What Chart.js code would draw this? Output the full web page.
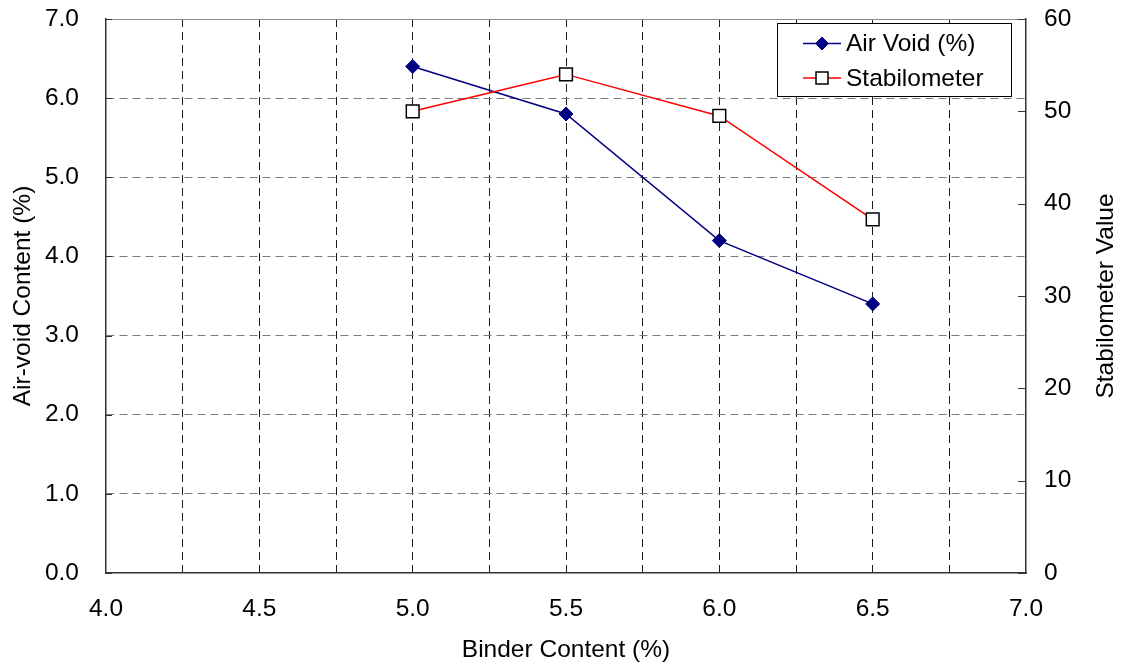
<!DOCTYPE html>
<html>
<head>
<meta charset="utf-8">
<script src="https://cdn.jsdelivr.net/npm/chart.js@4/dist/chart.umd.min.js"></script>
<style>
html,body{margin:0;padding:0;background:#fff;}
#wrap{width:1124px;height:667px;}
</style>
</head>
<body>
<div id="wrap"><canvas id="c" width="1124" height="667"></canvas></div>
<script>
const binderContent = [5.0, 5.5, 6.0, 6.5];
const airVoid = [6.4, 5.8, 4.2, 3.4];
const stabilometer = [50, 54, 49.5, 38.3];
const seriesNames = ['Air Void (%)', 'Stabilometer'];
const xTitle = 'Binder Content (%)';
const yTitle = 'Air-void Content (%)';
const y2Title = 'Stabilometer Value';

const FONT = '"Liberation Sans", Arial, sans-serif';
const FS = 24.5;

const framePlugin = {
  id: 'frame',
  beforeDatasetsDraw(chart) {
    const {ctx, chartArea: a, scales} = chart;
    ctx.save();
    ctx.strokeStyle = '#8c8c8c';
    ctx.lineWidth = 1;
    ctx.beginPath();
    ctx.moveTo(a.left, Math.round(a.top) + 0.5);
    ctx.lineTo(a.right, Math.round(a.top) + 0.5);
    ctx.stroke();
    ctx.strokeStyle = '#333';
    ctx.beginPath();
    scales.y.ticks.forEach(t => {
      const p = Math.round(scales.y.getPixelForValue(t.value)) + 0.5;
      ctx.moveTo(a.left, p); ctx.lineTo(a.left + 6, p);
    });
    scales.y2.ticks.forEach(t => {
      const p = Math.round(scales.y2.getPixelForValue(t.value)) + 0.5;
      ctx.moveTo(a.right, p); ctx.lineTo(a.right - 8, p);
    });
    ctx.stroke();
    ctx.restore();
  },
  afterDraw(chart) {
    const {ctx, chartArea: a} = chart;
    const ds = chart.data.datasets;
    ctx.save();
    // right axis title, reading bottom-to-top
    ctx.save();
    ctx.translate(1106, (a.top + a.bottom) / 2);
    ctx.rotate(-Math.PI / 2);
    ctx.fillStyle = '#000';
    ctx.font = FS + 'px ' + FONT;
    ctx.textAlign = 'center';
    ctx.textBaseline = 'middle';
    ctx.fillText(y2Title, 0, 0);
    ctx.restore();
    // legend
    const bx = 777.5, by = 23.5, bw = 234, bh = 73;
    ctx.fillStyle = '#fff';
    ctx.fillRect(bx, by, bw, bh);
    ctx.strokeStyle = '#000';
    ctx.lineWidth = 1;
    ctx.strokeRect(bx, by, bw, bh);
    const rows = [43.5, 78];
    ds.forEach((d, i) => {
      const y = rows[i];
      ctx.strokeStyle = d.borderColor;
      ctx.lineWidth = 1.5;
      ctx.beginPath();
      ctx.moveTo(803, y); ctx.lineTo(841, y);
      ctx.stroke();
      ctx.fillStyle = d.pointBackgroundColor;
      ctx.strokeStyle = d.pointBorderColor;
      ctx.lineWidth = d.pointBorderWidth;
      ctx.beginPath();
      if (d.pointStyle === 'rect') {
        const s = 6;
        ctx.rect(822 - s, y - s, 2 * s, 2 * s);
      } else {
        const r = 6.5;
        ctx.moveTo(822, y - r); ctx.lineTo(822 + r, y); ctx.lineTo(822, y + r); ctx.lineTo(822 - r, y); ctx.closePath();
      }
      ctx.fill(); ctx.stroke();
      ctx.fillStyle = '#000';
      ctx.font = FS + 'px ' + FONT;
      ctx.textBaseline = 'middle';
      ctx.textAlign = 'left';
      ctx.fillText(d.label, 846, y + 1);
    });
    ctx.restore();
  }
};

const noPadV = s => { s.paddingTop = 0; s.paddingBottom = 0; };

new Chart(document.getElementById('c'), {
  type: 'line',
  data: {
    datasets: [
      {
        label: seriesNames[0],
        data: binderContent.map((x, i) => ({x, y: airVoid[i]})),
        yAxisID: 'y',
        borderColor: '#000080',
        backgroundColor: '#000080',
        borderWidth: 1.5,
        pointStyle: 'rectRot',
        pointRadius: 7,
        pointBackgroundColor: '#000080',
        pointBorderColor: '#000080',
        pointBorderWidth: 1,
        tension: 0,
        order: 1
      },
      {
        label: seriesNames[1],
        data: binderContent.map((x, i) => ({x, y: stabilometer[i]})),
        yAxisID: 'y2',
        borderColor: '#ff0000',
        backgroundColor: '#ffffff',
        borderWidth: 1.5,
        pointStyle: 'rect',
        pointRadius: 9,
        pointBackgroundColor: '#ffffff',
        pointBorderColor: '#000000',
        pointBorderWidth: 1.5,
        tension: 0,
        order: 0
      }
    ]
  },
  options: {
    responsive: false,
    animation: false,
    devicePixelRatio: 1,
    layout: {padding: {top: 19, left: 0, right: 0, bottom: 0}},
    plugins: {legend: {display: false}, tooltip: {enabled: false}},
    scales: {
      x: {
        type: 'linear',
        min: 4, max: 7,
        afterFit: s => { s.height = 94; s.paddingLeft = 0; s.paddingRight = 0; },
        ticks: {
          stepSize: 0.25, autoSkip: false, maxRotation: 0, padding: 22,
          color: '#000', font: {family: FONT, size: FS},
          callback: v => (Math.abs(v * 2 - Math.round(v * 2)) < 1e-6 ? v.toFixed(1) : '')
        },
        grid: {
          drawTicks: false, lineWidth: 1,
          color: c => (c.tick && (Math.abs(c.tick.value - 4) < 1e-6 || Math.abs(c.tick.value - 7) < 1e-6)) ? 'rgba(0,0,0,0)' : '#1a1a1a'
        },
        border: {display: true, color: '#333', width: 1.5, dash: [8, 5]},
        title: {display: true, text: xTitle, color: '#000', font: {family: FONT, size: FS}, padding: {top: 0, bottom: 2}}
      },
      y: {
        position: 'left',
        min: 0, max: 7,
        afterFit: s => { s.width = 106; noPadV(s); },
        ticks: {
          stepSize: 1, padding: 27, color: '#000', font: {family: FONT, size: FS},
          callback: v => v.toFixed(1)
        },
        grid: {
          drawTicks: false, lineWidth: 1,
          color: c => (c.tick && (c.tick.value === 0 || c.tick.value === 7)) ? 'rgba(0,0,0,0)' : '#7a7a7a'
        },
        border: {display: true, color: '#333', width: 1.5, dash: [8, 5]},
        title: {display: true, text: yTitle, color: '#000', font: {family: FONT, size: FS}, padding: {top: 9, bottom: 0}}
      },
      y2: {
        position: 'right',
        min: 0, max: 60,
        afterFit: s => { s.width = 98; noPadV(s); },
        ticks: {
          stepSize: 10, padding: 18, color: '#000', font: {family: FONT, size: FS}
        },
        grid: {display: false, drawOnChartArea: false, drawTicks: false},
        border: {display: true, color: '#333', width: 1.5},
        title: {display: false, text: y2Title}
      }
    }
  },
  plugins: [framePlugin]
});
</script>
</body>
</html>
